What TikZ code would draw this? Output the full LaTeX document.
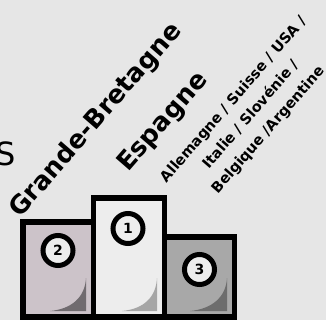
\documentclass[tikz,border=0pt]{standalone}
\usepackage{fontspec}
\setmainfont{DejaVu Sans}
\definecolor{bg}{HTML}{E6E6E6}
\definecolor{silver}{HTML}{CCC3C9}
\definecolor{gold}{HTML}{EDEDED}
\definecolor{bronze}{HTML}{A8A8A8}
\begin{document}
\begin{tikzpicture}[x=1pt,y=-1pt]
			\tikzset{block/.style = {draw=black,line width=5.5pt}}
			\tikzset{place/.style = {shape=circle,draw=black,line width=5pt,fill=gold,minimum size=30pt,inner sep=0pt,font=\bfseries\fontsize{14}{14}\selectfont}}
			\tikzset{country/.style = {rotate=49,inner sep=0pt,font=\bfseries\fontsize{25.5}{25.5}\selectfont}}
			\tikzset{others/.style = {rotate=49,inner sep=0pt,align=center,font=\bfseries\fontsize{14.5}{23}\selectfont}}
			\fill[bg] (0,0) rectangle (326,320);
			\useasboundingbox (0,0) rectangle (326,320);
			% blocks
			\filldraw[block,fill=silver] (23,222) rectangle (93.5,317);
			\filldraw[block,fill=bronze] (164.5,237) rectangle (234.5,317);
			\filldraw[block,fill=gold] (93.5,198) rectangle (164.5,317);
			% folded corners
			\fill[fill=black!45!silver] (50,311) .. controls (72,309) and (85,297) .. (86,278) -- (86,311) -- cycle;
			\fill[fill=black!30!gold] (122,311) .. controls (144,309) and (156,297) .. (157,278) -- (157,311) -- cycle;
			\fill[fill=black!35!bronze] (190,311) .. controls (212,309) and (226,297) .. (227,278) -- (227,311) -- cycle;
			% places
			\node[place] (p1) at (128,228.5) {1};
			\node[place] (p2) at (58,250.5) {2};
			\node[place] (p3) at (199.5,269.5) {3};
			% names
			\node[inner sep=0pt,anchor=base east,font=\fontsize{32}{32}\selectfont] (cut) at (16,166) {S};
			\node[country] (gb) at (96,120.5) {Grande-Bretagne};
			\node[country] (es) at (163.5,122.5) {Espagne};
			\node[others] (rest) at (251,115) {Allemagne / Suisse / USA /\\Italie / Slovénie /\\Belgique /Argentine};
		\end{tikzpicture}
\end{document}
